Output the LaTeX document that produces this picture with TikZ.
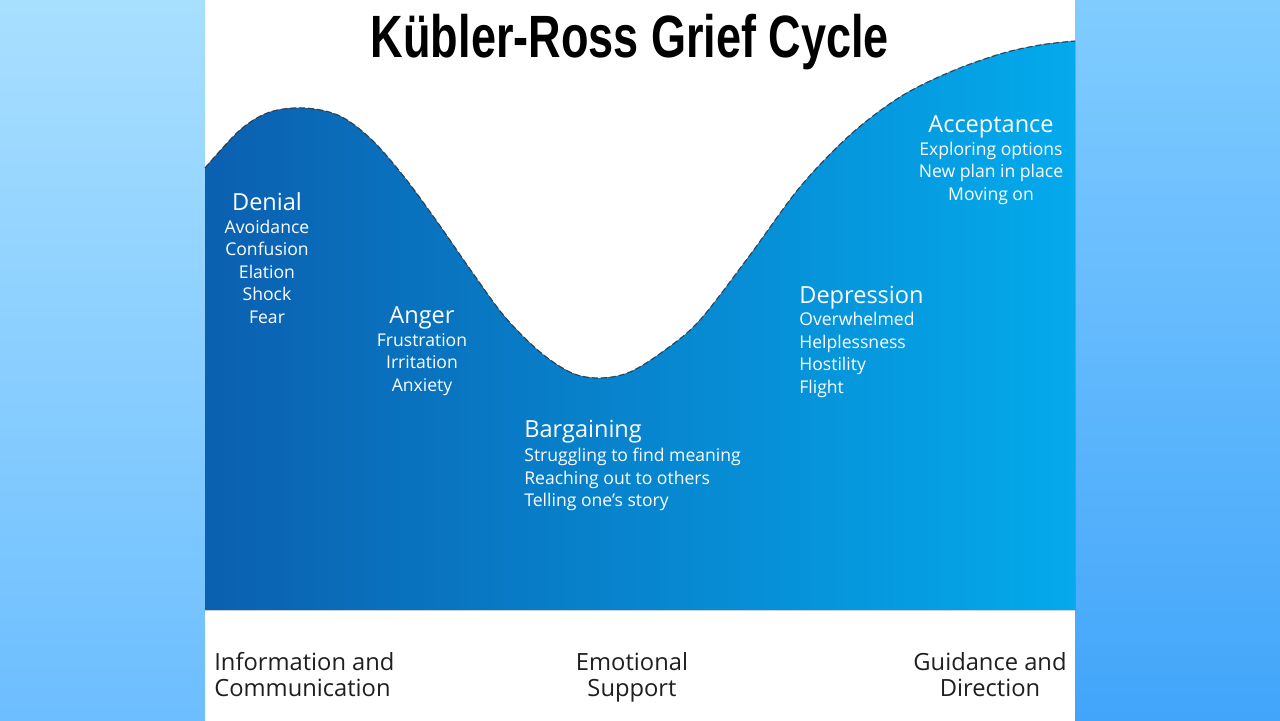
\documentclass[tikz,border=0pt]{standalone}
\usepackage{fontspec}
\setmainfont{Open Sans}
\newfontfamily\titlefont{Liberation Sans}
\definecolor{bgTL}{HTML}{A8DFFF}
\definecolor{bgBL}{HTML}{6CBEFF}
\definecolor{bgTR}{HTML}{80CCFF}
\definecolor{bgBR}{HTML}{42A5FA}
\definecolor{fillL}{HTML}{0B60B0}
\definecolor{fillR}{HTML}{04AAEC}
\definecolor{edge}{HTML}{2E3A48}
\tikzset{
  head/.style={text=white, font=\fontsize{13.4}{16}\selectfont, inner sep=0pt},
  item/.style={text=white, font=\fontsize{10}{12}\selectfont, inner sep=0pt},
  foot/.style={text=black!88, font=\fontsize{13.5}{16}\selectfont, inner sep=0pt},
  curveedge/.style={draw=edge, line width=0.7pt, dash pattern=on 3.4pt off 1.7pt, opacity=0.85},
}
\begin{document}
\begin{tikzpicture}[x=0.02cm, y=-0.02cm]
\useasboundingbox (0,0) rectangle (1280,720);
% background
\shade[top color=bgTL, bottom color=bgBL] (0,0) rectangle (205,720);
\shade[top color=bgTR, bottom color=bgBR] (1075,0) rectangle (1280,720);
\fill[white] (205,0) rectangle (1075,720);
% curve area
\fill[left color=fillL, right color=fillR] (205,610) -- plot[smooth, tension=0.55] coordinates {
 (205,168) (240,130) (270,112) (305,108) (340,116) (372,140) (405,178) (438,223) (472,272) (505,317) (540,352) (572,373) (600,378) (630,372) (665,350) (700,320) (750,255) (800,187) (850,135) (900,97) (950,72) (1000,54) (1040,45) (1075,41)}
 -- (1075,610) -- cycle;
\draw[curveedge] plot[smooth, tension=0.55] coordinates {
 (205,168) (240,130) (270,112) (305,108) (340,116) (372,140) (405,178) (438,223) (472,272) (505,317) (540,352) (572,373) (600,378) (630,372) (665,350) (700,320) (750,255) (800,187) (850,135) (900,97) (950,72) (1000,54) (1040,45) (1075,41)};
% title
\node[anchor=base, inner sep=0pt] (title) at (630,57) {\scalebox{0.754}[1]{\titlefont\bfseries\fontsize{34}{40}\selectfont Kübler-Ross Grief Cycle}};
% Denial
\node[head, anchor=base] (denial) at (267,210.5) {Denial};
\foreach \t [count=\i] in {Avoidance,Confusion,Elation,Shock,Fear}
  \node[item, anchor=base] (den\i) at (267,{233+22.5*(\i-1)}) {\t};
% Anger
\node[head, anchor=base] (anger) at (422,323.5) {Anger};
\foreach \t [count=\i] in {Frustration,Irritation,Anxiety}
  \node[item, anchor=base] (ang\i) at (422,{346+22.5*(\i-1)}) {\t};
% Bargaining
\node[head, anchor=base west] (barg) at (524,437) {Bargaining};
\foreach \t [count=\i] in {Struggling to find meaning,Reaching out to others,Telling one’s story}
  \node[item, anchor=base west] (bar\i) at (524,{461.5+22.5*(\i-1)}) {\t};
% Depression
\node[head, anchor=base west] (depr) at (799,303) {Depression};
\foreach \t [count=\i] in {Overwhelmed,Helplessness,Hostility,Flight}
  \node[item, anchor=base west] (dep\i) at (799,{325.5+22.5*(\i-1)}) {\t};
% Acceptance
\node[head, anchor=base] (accept) at (991,132) {Acceptance};
\foreach \t [count=\i] in {Exploring options,New plan in place,Moving on}
  \node[item, anchor=base] (acc\i) at (991,{155+22.5*(\i-1)}) {\t};
% footer
\node[foot, anchor=base west] (info1) at (214,670) {Information and};
\node[foot, anchor=base west] (info2) at (214,696) {Communication};
\node[foot, anchor=base] (emo1) at (632,670) {Emotional};
\node[foot, anchor=base] (emo2) at (632,696) {Support};
\node[foot, anchor=base] (guid1) at (990,670) {Guidance and};
\node[foot, anchor=base] (guid2) at (990,696) {Direction};
\end{tikzpicture}
\end{document}
